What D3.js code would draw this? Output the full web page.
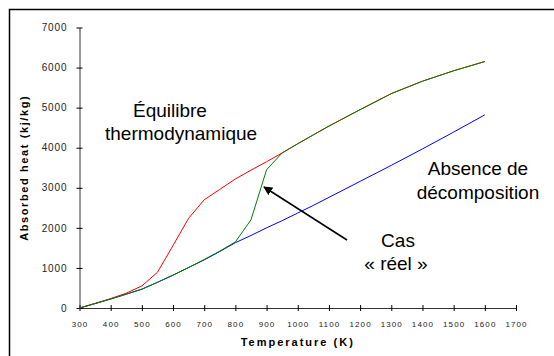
<!DOCTYPE html>
<html>
<head>
<meta charset="utf-8">
<script src="https://cdn.jsdelivr.net/npm/d3@7"></script>
<style>
  body { margin: 0; background: #fff; }
  svg { display: block; font-family: Arial, "Liberation Sans", sans-serif; }
</style>
</head>
<body>
<div id="chart"></div>
<script>
// temperatures (K) where the curves are sampled
const temps = [300, 350, 400, 450, 500, 550, 600, 650, 700, 750, 800, 850, 900, 950,
               1000, 1050, 1100, 1200, 1300, 1400, 1500, 1600];
// absorbed heat (kj/kg)
const noDecomp = [0, 110, 225, 345, 470, 640, 820, 1010, 1200, 1410, 1630, 1810, 2000, 2180,
                  2370, 2560, 2760, 3160, 3560, 3970, 4390, 4820];
const equilibrium = [0, 115, 235, 370, 550, 890, 1560, 2240, 2700, 2960, 3220, 3440, 3650, 3870,
                     4100, 4320, 4540, 4950, 5350, 5660, 5920, 6150];
const realCase = [0, 110, 225, 345, 470, 640, 820, 1010, 1210, 1420, 1650, 2200, 3450, 3870,
                  4100, 4320, 4540, 4950, 5350, 5660, 5920, 6150];
const xTicks = d3.range(300, 1701, 100);
const yTicks = d3.range(0, 7001, 1000);

function init() {
    const w = 554, h = 356;
    const margin = { top: 27.5, right: 38, bottom: 48, left: 79.5 };
    const font = "Arial, 'Liberation Sans', sans-serif";

    const svg = d3.select("#chart").append("svg")
        .attr("width", w)
        .attr("height", h);

    // frame (only top and left edges are inside the picture)
    svg.append("path")
        .attr("d", `M9.5,${h} V9.5 H${w}`)
        .attr("fill", "none")
        .attr("stroke", "#000")
        .attr("stroke-width", 1.5);

    const x = d3.scaleLinear().domain([300, 1700]).range([margin.left, w - margin.right]);
    const y = d3.scaleLinear().domain([0, 7000]).range([h - margin.bottom, margin.top]);

    // x axis
    const xAxis = svg.append("g")
        .attr("transform", `translate(0,${y(0)})`)
        .call(d3.axisBottom(x).tickValues(xTicks).tickFormat(d3.format("d"))
            .tickSizeInner(3).tickSizeOuter(0).tickPadding(10))
        .attr("font-family", font);
    xAxis.select(".domain").attr("stroke", "#333");
    xAxis.selectAll(".tick line").attr("y1", -3).attr("stroke", "#000");
    xAxis.selectAll("text")
        .attr("font-size", 8)
        .attr("letter-spacing", 1.1)
        .attr("fill", "#222");

    // y axis
    const yAxis = svg.append("g")
        .attr("transform", `translate(${x(300)},0)`)
        .call(d3.axisLeft(y).tickValues(yTicks).tickFormat(d3.format("d"))
            .tickSizeInner(3).tickSizeOuter(0).tickPadding(9))
        .attr("font-family", font);
    yAxis.select(".domain").attr("stroke", "#333");
    yAxis.selectAll(".tick line").attr("x1", 3).attr("stroke", "#000");
    yAxis.selectAll("text")
        .attr("font-size", 10)
        .attr("letter-spacing", 0.9)
        .attr("fill", "#222");

    // axis titles
    svg.append("text")
        .attr("x", (x(300) + x(1700)) / 2)
        .attr("y", 346)
        .attr("text-anchor", "middle")
        .attr("font-size", 11)
        .attr("font-weight", "bold")
        .attr("letter-spacing", 2)
        .text("Temperature (K)");

    svg.append("text")
        .attr("transform", `translate(28,${(y(0) + y(7000)) / 2}) rotate(-90)`)
        .attr("text-anchor", "middle")
        .attr("font-size", 11)
        .attr("font-weight", "bold")
        .attr("letter-spacing", 1.6)
        .text("Absorbed heat (kj/kg)");

    // curves
    const series = [
        { values: noDecomp, color: "#0000ff" },
        { values: equilibrium, color: "#ff0000" },
        { values: realCase, color: "#008000" }
    ];
    const line = d3.line()
        .x((d, i) => x(temps[i]))
        .y(d => y(d));

    svg.append("g")
        .selectAll("path")
        .data(series)
        .join("path")
        .attr("d", d => line(d.values))
        .attr("fill", "none")
        .attr("stroke", d => d.color)
        .attr("stroke-width", 1);

    // annotations
    const notes = svg.append("g").attr("font-size", 19).attr("fill", "#000");
    notes.append("text").attr("x", 133).attr("y", 117).text("Équilibre");
    notes.append("text").attr("x", 105).attr("y", 140).text("thermodynamique");
    notes.append("text").attr("x", 478).attr("y", 175).attr("text-anchor", "middle").text("Absence de");
    notes.append("text").attr("x", 478).attr("y", 199).attr("text-anchor", "middle").text("décomposition");
    notes.append("text").attr("x", 398).attr("y", 247).attr("text-anchor", "middle").text("Cas");
    notes.append("text").attr("x", 396).attr("y", 270).attr("text-anchor", "middle").text("« réel »");

    // arrow pointing to the real-case curve
    svg.append("defs").append("marker")
        .attr("id", "head")
        .attr("viewBox", "0 0 10 10")
        .attr("refX", 9).attr("refY", 5)
        .attr("markerWidth", 9).attr("markerHeight", 9)
        .attr("markerUnits", "userSpaceOnUse")
        .attr("orient", "auto")
        .append("path")
        .attr("d", "M0,0 L10,5 L0,10 Z")
        .attr("fill", "#000");

    svg.append("line")
        .attr("x1", 347).attr("y1", 240)
        .attr("x2", 264).attr("y2", 187)
        .attr("stroke", "#000")
        .attr("stroke-width", 1.5)
        .attr("marker-end", "url(#head)");
}

window.onload = init;
</script>
</body>
</html>
